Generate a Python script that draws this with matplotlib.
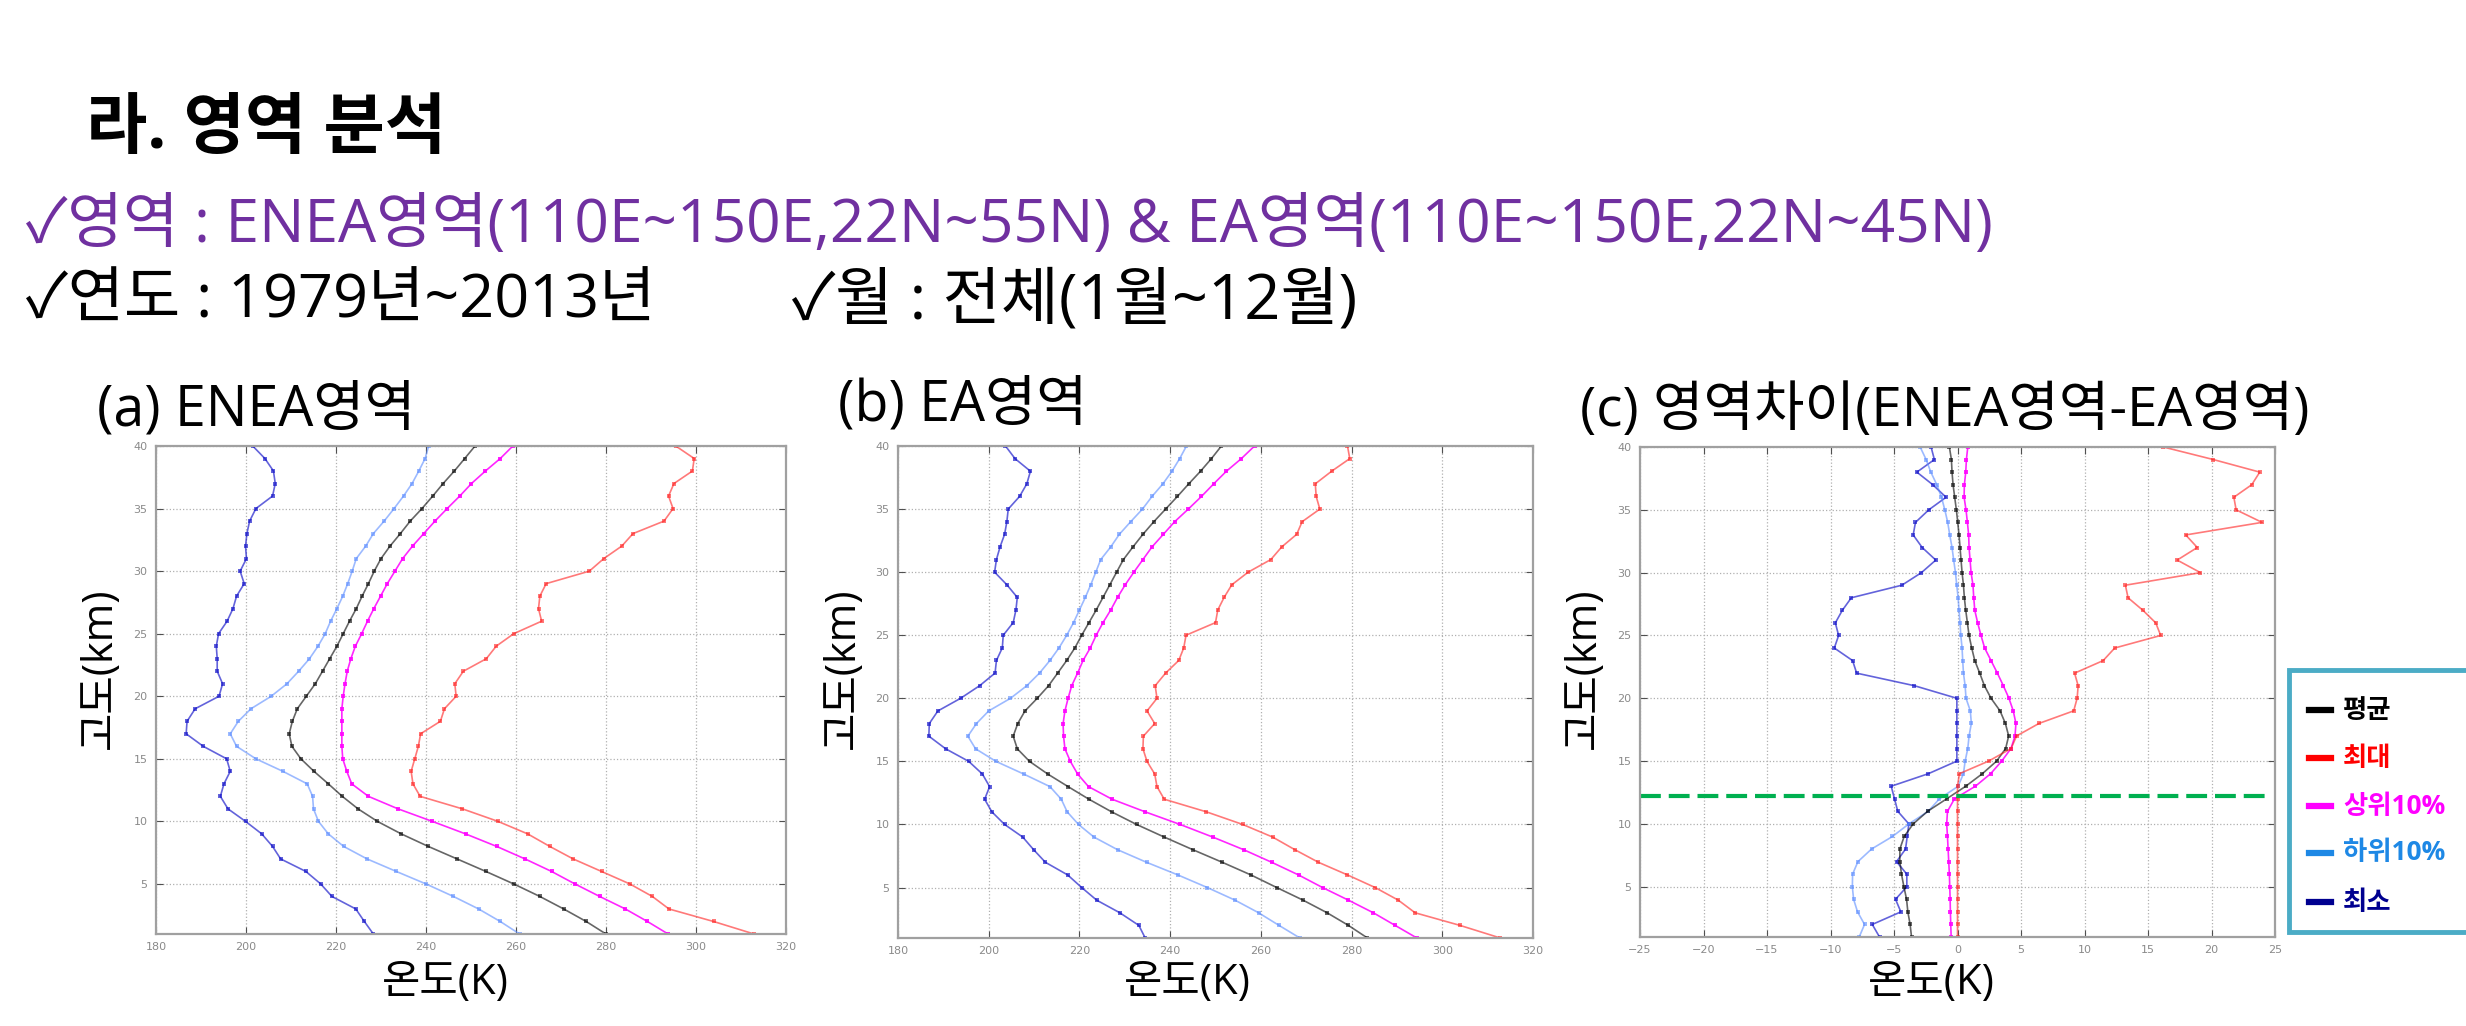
import matplotlib
matplotlib.use("Agg")
import matplotlib.pyplot as plt
from matplotlib.lines import Line2D
from matplotlib.patches import Rectangle

W, H = 2466, 1026
KR = ['Open Sans', 'Noto Sans CJK KR', 'DejaVu Sans']

# altitude levels (km)
alt = list(range(1, 41))

# (a) ENEA region temperature profiles (K), from 1 km to 40 km
a_min = [228.3, 226.3, 224.4, 219.1, 216.6, 213.3, 207.7, 205.9, 203.5, 199.9,
         196.0, 194.3, 195.1, 196.5, 195.7, 190.5, 186.7, 186.9, 188.7, 194.0,
         194.8, 193.6, 193.6, 193.4, 193.9, 195.8, 197.1, 197.9, 199.6, 198.7,
         200.1, 199.9, 200.2, 200.8, 202.2, 205.9, 206.5, 206.1, 204.2, 201.5]
a_low10 = [260.8, 256.5, 251.7, 246.1, 240.0, 233.4, 226.9, 221.7, 218.3, 216.1,
           215.0, 214.8, 213.6, 208.2, 202.2, 197.9, 196.5, 198.3, 201.1, 205.6,
           209.1, 211.7, 214.1, 216.0, 217.6, 218.8, 220.2, 221.5, 222.6, 223.6,
           224.5, 226.6, 228.3, 230.7, 232.9, 235.0, 236.9, 238.4, 239.8, 240.6]
a_mean = [280.0, 275.6, 270.6, 265.3, 259.5, 253.3, 246.9, 240.5, 234.5, 229.2,
          224.9, 221.4, 218.3, 215.1, 212.2, 210.2, 209.6, 210.3, 211.4, 213.4,
          215.4, 217.0, 218.6, 220.2, 221.6, 223.0, 224.5, 225.8, 227.2, 228.5,
          230.0, 232.0, 234.3, 236.5, 239.1, 241.5, 243.8, 246.3, 248.6, 250.9]
a_up10 = [293.8, 289.2, 284.3, 278.6, 273.1, 267.9, 262.0, 255.7, 248.8, 241.4,
          233.8, 227.2, 223.5, 222.4, 221.5, 221.3, 221.3, 221.3, 221.3, 221.6,
          222.0, 222.5, 223.3, 224.3, 225.7, 227.0, 228.4, 229.9, 231.4, 233.1,
          234.8, 237.0, 239.5, 242.0, 244.7, 247.5, 250.1, 253.2, 256.5, 259.3]
a_max = [312.9, 303.9, 294.0, 290.3, 285.3, 279.0, 272.7, 267.5, 262.6, 256.0,
         248.1, 238.7, 237.1, 236.7, 237.5, 238.3, 238.8, 243.2, 244.1, 246.7,
         246.4, 248.3, 253.4, 255.6, 259.5, 265.7, 265.0, 265.3, 266.7, 276.3,
         279.5, 283.5, 286.0, 292.9, 294.9, 293.9, 295.1, 299.2, 299.6, 295.5]

# (b) EA region
b_min = [234.5, 233.1, 228.9, 223.8, 220.5, 217.4, 212.5, 209.9, 207.5, 203.5,
         200.7, 199.1, 200.2, 198.6, 195.6, 190.5, 186.8, 186.9, 188.8, 193.8,
         198.0, 201.4, 201.7, 203.0, 203.2, 205.4, 206.0, 206.3, 204.0, 201.3,
         201.7, 202.5, 203.5, 204.0, 204.3, 206.8, 208.4, 209.2, 205.8, 203.7]
b_low10 = [268.6, 264.0, 259.5, 254.3, 248.2, 241.7, 234.8, 228.4, 223.2, 219.8,
           217.3, 216.0, 213.5, 207.7, 201.6, 197.1, 195.4, 197.3, 200.0, 204.8,
           208.4, 211.2, 213.5, 215.5, 217.2, 218.7, 220.0, 221.3, 222.5, 223.6,
           224.7, 226.9, 228.8, 231.3, 233.9, 236.0, 238.4, 240.4, 242.1, 243.6]
b_mean = [283.5, 279.3, 274.6, 269.3, 263.5, 257.8, 251.5, 245.0, 238.7, 232.6,
          227.1, 222.1, 217.5, 213.0, 209.0, 206.3, 205.4, 206.4, 208.0, 210.7,
          213.2, 215.2, 217.2, 219.0, 220.5, 222.1, 223.7, 225.2, 226.7, 228.2,
          229.7, 231.8, 234.0, 236.4, 239.0, 241.6, 244.1, 246.7, 249.1, 251.3]
b_up10 = [294.4, 289.6, 284.8, 279.3, 273.6, 268.3, 262.4, 256.2, 249.4, 242.2,
          234.5, 227.2, 222.0, 219.6, 218.0, 216.8, 216.5, 216.4, 216.8, 217.5,
          218.3, 219.6, 220.8, 222.4, 223.7, 225.2, 226.9, 228.4, 230.1, 232.0,
          234.0, 236.0, 238.5, 241.0, 244.0, 246.9, 249.6, 252.4, 255.7, 258.6]
b_max = [312.8, 303.9, 294.0, 290.3, 285.2, 279.1, 272.7, 267.5, 262.6, 256.0,
         248.0, 238.7, 237.1, 236.6, 234.9, 234.0, 234.1, 236.6, 234.9, 237.1,
         236.7, 239.0, 241.9, 243.0, 243.5, 250.0, 250.5, 251.9, 253.6, 257.2,
         262.2, 264.6, 267.9, 269.1, 273.0, 272.2, 272.0, 275.6, 279.6, 279.1]

# (c) difference ENEA - EA
c_min = [-6.14, -6.71, -4.46, -4.88, -3.99, -3.99, -4.80, -4.09, -3.96, -3.83,
         -4.70, -4.96, -5.22, -2.29, -0.05, -0.05, -0.05, -0.05, -0.05, -0.05,
         -3.39, -7.94, -8.26, -9.70, -9.36, -9.62, -9.07, -8.36, -4.38, -2.84,
         -1.71, -2.78, -3.49, -3.31, -2.26, -0.90, -1.95, -3.20, -1.82, -2.08]
c_low10 = [-7.74, -7.32, -7.87, -8.18, -8.28, -8.26, -7.84, -6.77, -5.12, -3.83,
           -2.31, -1.42, 0.05, 0.47, 0.60, 0.81, 0.91, 1.09, 1.01, 0.67,
           0.60, 0.47, 0.41, 0.36, 0.26, 0.20, 0.12, 0.05, -0.06, -0.16,
           -0.30, -0.43, -0.61, -0.77, -1.00, -1.26, -1.63, -2.10, -2.47, -2.94]
c_mean = [-3.62, -3.73, -3.91, -4.01, -4.22, -4.41, -4.54, -4.54, -4.20, -3.49,
          -2.36, -0.85, 0.65, 1.96, 3.08, 3.79, 4.03, 3.77, 3.35, 2.64,
          2.12, 1.75, 1.36, 1.12, 0.91, 0.78, 0.65, 0.54, 0.47, 0.36,
          0.28, 0.20, 0.12, 0.02, -0.09, -0.22, -0.35, -0.43, -0.48, -0.64]
c_up10 = [-0.50, -0.53, -0.56, -0.58, -0.61, -0.64, -0.69, -0.74, -0.79, -0.85,
          -0.79, -0.24, 1.41, 2.61, 3.48, 4.21, 4.53, 4.60, 4.39, 4.05,
          3.61, 3.14, 2.64, 2.14, 1.85, 1.59, 1.36, 1.28, 1.22, 1.07,
          0.99, 0.91, 0.88, 0.78, 0.67, 0.52, 0.54, 0.65, 0.70, 0.81]
c_max = [0.0, 0.0, 0.0, 0.0, 0.0, 0.0, 0.0, 0.0, 0.0, 0.0,
         0.0, 0.0, 0.0, 0.15, 2.45, 4.22, 4.65, 6.42, 9.15, 9.42,
         9.50, 9.22, 11.47, 12.38, 16.00, 15.61, 14.60, 13.43, 13.22, 19.13,
         17.30, 18.88, 17.97, 23.98, 21.94, 21.76, 23.17, 23.80, 20.15, 16.21]

tropopause_km = 12.25

legend_labels = ['평균', '최대', '상위10%', '하위10%', '최소']
legend_colors = ['#000000', '#FF0000', '#FF00FF', '#1E88E5', '#000090']

# line styles: (color, alpha) for min, low10, mean, up10, max
styles = {
    'min': ('#1010C8', 0.65),
    'low10': ('#5B8CFF', 0.6),
    'mean': ('#000000', 0.6),
    'up10': ('#FF00FF', 0.85),
    'max': ('#FF2020', 0.6),
}


def px_axes(fig, left, top, right, bottom):
    return fig.add_axes([left / W, 1 - bottom / H, (right - left) / W, (bottom - top) / H])


def draw_panel(ax, series, xlim, xticks):
    for key, vals in series:
        col, al = styles[key]
        ax.plot(vals, alt, '-', color=col, alpha=al, lw=1.2,
                marker='s', markersize=2.2, markeredgewidth=0)
    ax.set_xlim(*xlim)
    ax.set_ylim(1, 40)
    ax.set_xticks(xticks)
    ax.set_yticks([5, 10, 15, 20, 25, 30, 35, 40])
    ax.grid(True, linestyle=':', color='#B0B0B0', linewidth=0.9)
    ax.tick_params(direction='in', top=True, right=True, length=5,
                   color='#505050', labelcolor='#8A8A8A', labelsize=8, pad=6)
    for sp in ax.spines.values():
        sp.set_color('#A0A0A0')
        sp.set_linewidth(1.6)


fig = plt.figure(figsize=(W / 100, H / 100), dpi=100)

ax_a = px_axes(fig, 156, 446, 786, 934)
draw_panel(ax_a, [('min', a_min), ('low10', a_low10), ('mean', a_mean),
                  ('up10', a_up10), ('max', a_max)],
           (180, 320), range(180, 321, 20))

ax_b = px_axes(fig, 898, 446, 1533, 938)
draw_panel(ax_b, [('min', b_min), ('low10', b_low10), ('mean', b_mean),
                  ('up10', b_up10), ('max', b_max)],
           (180, 320), range(180, 321, 20))

ax_c = px_axes(fig, 1640, 447, 2275, 937)
draw_panel(ax_c, [('min', c_min), ('low10', c_low10), ('mean', c_mean),
                  ('up10', c_up10), ('max', c_max)],
           (-25, 25), range(-25, 26, 5))
ax_c.plot([-25, 24.2], [tropopause_km, tropopause_km], '--', color='#00B050',
          lw=3, dashes=(5.0, 1.9), clip_on=False)


def ftext(x, y, s, **kw):
    kw.setdefault('family', KR)
    fig.text(x / W, 1 - y / H, s, **kw)


# slide header
ftext(86, 130, '라. 영역 분석', fontsize=48, fontweight='bold', va='center')
ftext(26, 226, '✓영역 : ENEA영역(110E~150E,22N~55N) & EA영역(110E~150E,22N~45N)',
      fontsize=43.5, color='#7030A0', va='center')
ftext(26, 302, '✓연도 : 1979년~2013년', fontsize=44, va='center')
ftext(792, 302, '✓월 : 전체(1월~12월)', fontsize=45.5, va='center')

# panel titles
ftext(97, 411, '(a) ENEA영역', fontsize=40, va='center')
ftext(838, 406, '(b) EA영역', fontsize=40, va='center')
ftext(1580, 411, '(c) 영역차이(ENEA영역-EA영역)', fontsize=39.5, va='center')

# axis labels
for x in (100, 843, 1584):
    ftext(x, 668, '고도(km)', fontsize=30, rotation=90, va='center', ha='center')
for x in (445, 1187, 1931):
    ftext(x, 983, '온도(K)', fontsize=30, va='center', ha='center')

# legend box
fig.patches.append(Rectangle((2289 / W, 1 - 932 / H), (2480 - 2289) / W, (932 - 670) / H,
                             transform=fig.transFigure, fill=True, facecolor='white',
                             edgecolor='#4BACC6', linewidth=3.5))
ys = [710, 758, 806, 853, 902]
for y, lab, col in zip(ys, legend_labels, legend_colors):
    fig.lines.append(Line2D([2309 / W, 2331 / W], [1 - y / H, 1 - y / H],
                            transform=fig.transFigure, color=col, lw=4.5))
    ftext(2343, y, lab, fontsize=19, fontweight='bold', color=col, va='center')

fig.savefig('out.png', dpi=100)
